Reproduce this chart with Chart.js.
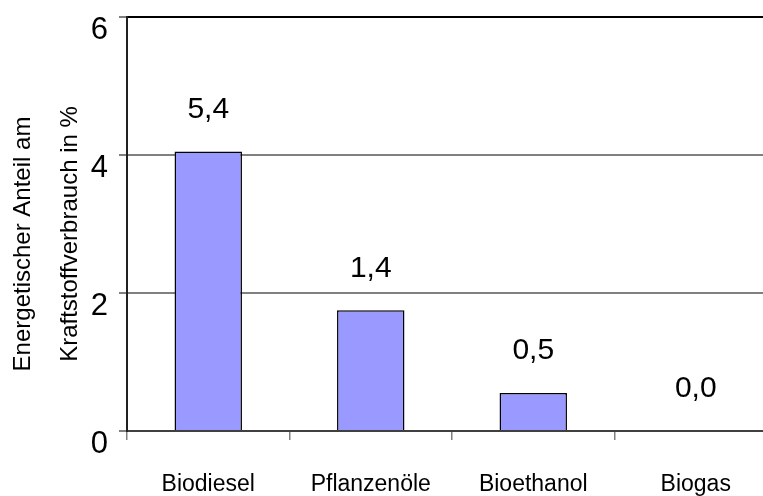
<!DOCTYPE html>
<html><head><meta charset="utf-8">
<script src="https://cdn.jsdelivr.net/npm/chart.js@4.4.0/dist/chart.umd.min.js"></script>
<style>
html,body{margin:0;padding:0;width:763px;height:496px;overflow:hidden;background:#fff}
#wrap{width:790px;height:496px;position:relative}
</style></head>
<body><div id="wrap"><canvas id="c"></canvas></div>
<script>
const categories = ['Biodiesel', 'Pflanzenöle', 'Bioethanol', 'Biogas'];
const barValues = [4.05, 1.75, 0.55, 0];
const valueLabels = ['5,4', '1,4', '0,5', '0,0'];
const yTickValues = [0, 2, 4, 6];
const yTitle = ['Energetischer Anteil am      ', 'Kraftstoffverbrauch in %   '];

const FONT = '"Liberation Sans", Arial, Helvetica, sans-serif';

const valueLabelPlugin = {
  id: 'valueLabels',
  afterDatasetsDraw(chart) {
    const ctx = chart.ctx;
    const meta = chart.getDatasetMeta(0);
    ctx.save();
    ctx.font = '30px ' + FONT;
    ctx.fillStyle = '#000';
    ctx.textAlign = 'center';
    ctx.textBaseline = 'middle';
    meta.data.forEach((bar, i) => {
      ctx.fillText(valueLabels[i], bar.x, bar.y - 42);
    });
    ctx.restore();
  }
};

new Chart(document.getElementById('c'), {
  type: 'bar',
  data: {
    labels: categories,
    datasets: [{
      data: barValues,
      backgroundColor: '#9999FF',
      borderColor: '#000000',
      borderWidth: 1.5,
      barPercentage: 0.415,
      categoryPercentage: 1.0
    }]
  },
  options: {
    responsive: true,
    maintainAspectRatio: false,
    animation: false,
    layout: { padding: { top: 17, right: 13, bottom: 0, left: 0 } },
    plugins: { legend: { display: false }, tooltip: { enabled: false } },
    scales: {
      x: {
        offset: true,
        grid: { display: true, drawOnChartArea: false, drawTicks: true, tickLength: 9, color: '#808080', lineWidth: 1.5, offset: true },
        border: { display: true, color: '#404040', width: 2 },
        ticks: { color: '#000', font: { family: FONT, size: 23 }, padding: 31, maxRotation: 0, autoSkip: false },
        afterFit(scale) { scale.height = 65; scale.paddingLeft = 0; scale.paddingRight = 0; }
      },
      y: {
        min: 0, max: 6,
        afterBuildTicks(scale) { scale.ticks = yTickValues.map(v => ({ value: v })); },
        grid: {
          drawTicks: true, tickLength: 8, tickColor: '#808080',
          color: (c) => (c.tick && c.tick.value === 6) ? '#000000' : '#808080',
          lineWidth: 2
        },
        border: { display: true, color: '#202020', width: 2 },
        ticks: { color: '#000', font: { family: FONT, size: 31 }, padding: 11, labelOffset: 13,
                 callback: (v) => String(v) },
        title: { display: true, text: yTitle, color: '#000', font: { family: FONT, size: 24, lineHeight: 1.96 }, padding: { top: 0, bottom: 0 } },
        afterFit(scale) { scale.width = 127; scale.paddingTop = 0; scale.paddingBottom = 0; }
      }
    }
  },
  plugins: [valueLabelPlugin]
});
</script>
</body></html>
